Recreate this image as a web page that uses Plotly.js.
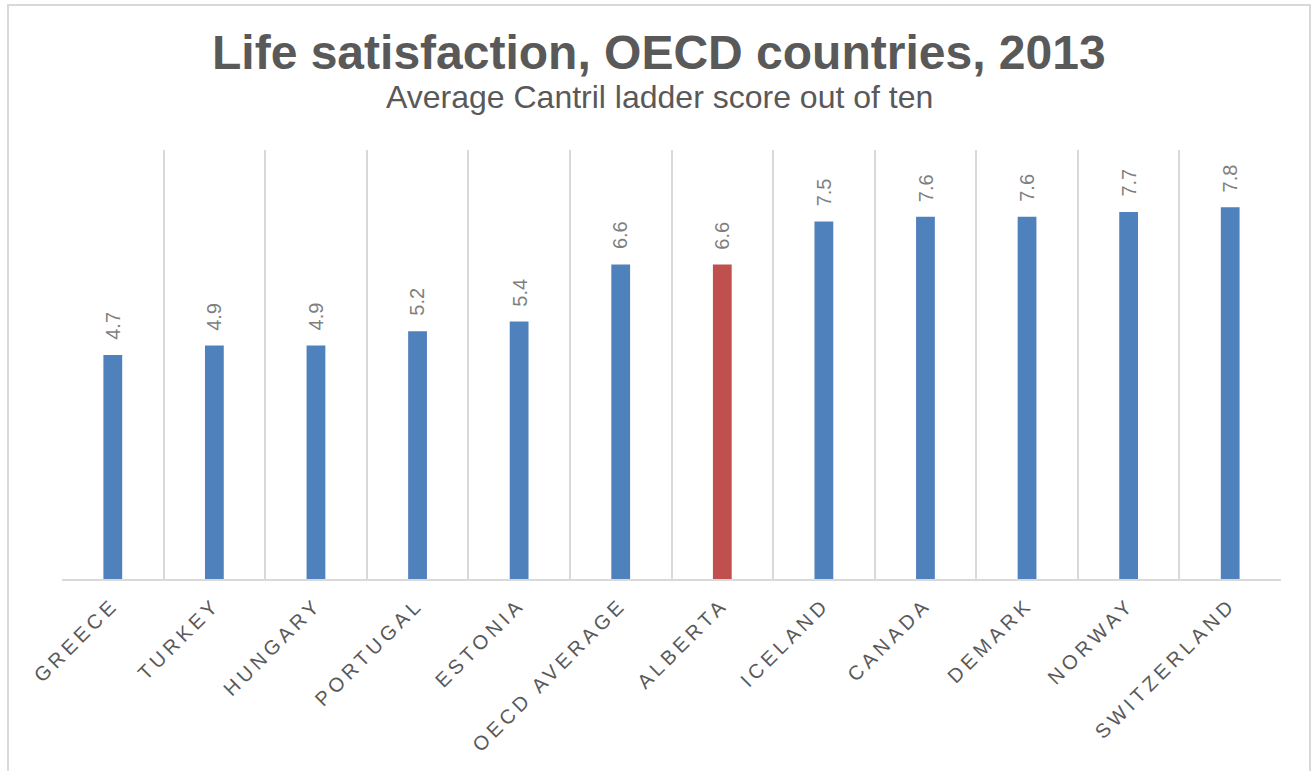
<!DOCTYPE html>
<html>
<head>
<meta charset="utf-8">
<script src="https://cdn.plot.ly/plotly-3.0.1.min.js"></script>
<style>
  html, body { margin: 0; padding: 0; background: #ffffff; }
  #wrap { position: relative; width: 1311px; height: 771px; overflow: hidden; }
  #chart { position: absolute; left: 0; top: 0; width: 1311px; height: 771px; }
  #frame { position: absolute; left: 7px; top: 4px; width: 1300px; height: 800px;
           border: 2px solid #d9d9d9; border-bottom: none; pointer-events: none; }
  #chart .xtick text { letter-spacing: 4.2px; }
</style>
</head>
<body>
<div id="wrap">
  <div id="chart"></div>
  <div id="frame"></div>
</div>
<script>
const categories = ["GREECE", "TURKEY", "HUNGARY", "PORTUGAL", "ESTONIA", "OECD AVERAGE",
                    "ALBERTA", "ICELAND", "CANADA", "DEMARK", "NORWAY", "SWITZERLAND"];
const scores = [4.7, 4.9, 4.9, 5.2, 5.4, 6.6, 6.6, 7.5, 7.6, 7.6, 7.7, 7.8];
const highlight = "ALBERTA";
const titleText = "Life satisfaction, OECD countries, 2013";
const subtitleText = "Average Cantril ladder score out of ten";

const BLUE = "#4f81bd", RED = "#c0504d";
const barColors = categories.map(c => c === highlight ? RED : BLUE);

const labelAnnotations = categories.map((c, i) => ({
  x: c, y: scores[i], xref: "x", yref: "y",
  text: scores[i].toFixed(1), showarrow: false,
  textangle: -90, xanchor: "center", yanchor: "bottom", yshift: 13,
  font: { family: "Liberation Sans, Arial, sans-serif", size: 20, color: "#7f7f7f" }
}));

const trace = {
  type: "bar", x: categories, y: scores,
  marker: { color: barColors, line: { width: 0 } },
  hoverinfo: "x+y"
};

const layout = {
  width: 1311, height: 771,
  margin: { l: 62, r: 30, t: 150, b: 192 },
  paper_bgcolor: "#ffffff", plot_bgcolor: "#ffffff",
  bargap: 0.815,
  showlegend: false,
  font: { family: "Liberation Sans, Arial, sans-serif", color: "#595959" },
  xaxis: {
    type: "category", tickson: "boundaries",
    showgrid: true, gridcolor: "#d9d9d9", gridwidth: 1.5,
    showline: true, linecolor: "#d9d9d9", linewidth: 2,
    ticks: "", tickangle: -45, ticklabelstandoff: 4,
    tickfont: { family: "Liberation Sans, Arial, sans-serif", size: 20, color: "#595959" },
    zeroline: false, fixedrange: true
  },
  yaxis: {
    range: [0, 9], showgrid: false, zeroline: false, showline: false,
    showticklabels: false, ticks: "", fixedrange: true
  },
  annotations: [
    { text: "<b>" + titleText + "</b>", xref: "paper", yref: "paper", x: 0.4898, y: 1.2273,
      xanchor: "center", yanchor: "middle", showarrow: false,
      font: { family: "Liberation Sans, Arial, sans-serif", size: 48, color: "#595959" } },
    { text: subtitleText, xref: "paper", yref: "paper", x: 0.4898, y: 1.1224,
      xanchor: "center", yanchor: "middle", showarrow: false,
      font: { family: "Liberation Sans, Arial, sans-serif", size: 32, color: "#595959" } }
  ].concat(labelAnnotations)
};

Plotly.newPlot("chart", [trace], layout, { displayModeBar: false });
</script>
</body>
</html>
